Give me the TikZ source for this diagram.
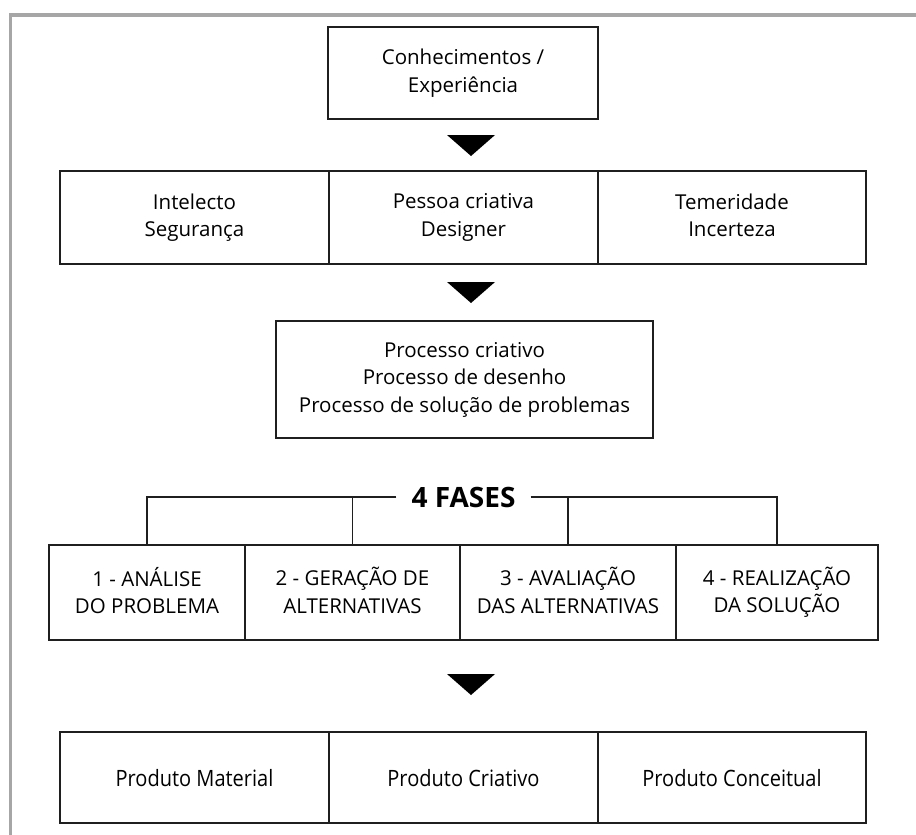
\documentclass[tikz,border=0pt]{standalone}
\usepackage{fontspec}
\setmainfont{Open Sans}
\newfontfamily\narrowfont[FakeStretch=0.89]{Open Sans}
% struts that give every box the same text block height
\newcommand\topstrut{\rule{0pt}{23pt}}
\newcommand\botstrut{\rule[-4.5pt]{0pt}{0pt}}
\begin{document}
\begin{tikzpicture}[x=1pt,y=-1pt,
  box/.style={draw=black!88, line width=1.5pt, rectangle, align=center,
    inner sep=0pt, font=\fontsize{20.5}{27.5}\selectfont,
    execute at begin node=\topstrut, execute at end node=\botstrut},
  row/.style={box, minimum height=93pt},
  phase/.style={box, minimum height=95pt},
  prod/.style={box, minimum height=91pt, font=\narrowfont\fontsize{22.5}{27}\selectfont},
  link/.style={draw=black!88, line width=1.5pt},
  pointer/.style={fill=black}
]
\useasboundingbox (0,0) rectangle (916,835);
% page frame
\draw[line width=3.5pt, draw=black!35] (10.5,835) -- (10.5,15) -- (916,15);

% source box
\node[box, minimum width=270pt, minimum height=92pt] (know) at (463,73)
  {Conhecimentos /\\Experiência};

% designer row
\node[row, minimum width=269pt] (intel) at (194.5,217.5) {Intelecto\\Segurança};
\node[row, minimum width=269pt] (person) at (463.5,217.5) {Pessoa criativa\\Designer};
\node[row, minimum width=268pt] (risk) at (732,217.5) {Temeridade\\Incerteza};

% process box
\node[box, minimum width=377pt, minimum height=117pt] (proc) at (464.5,379.5)
  {Processo criativo\\Processo de desenho\\Processo de solução de problemas};

% phases
\node[phase, minimum width=196pt] (f1) at (147,592.5) {1 - ANÁLISE\\DO PROBLEMA};
\node[phase, minimum width=215pt] (f2) at (352.5,592.5) {2 - GERAÇÃO DE\\ALTERNATIVAS};
\node[phase, minimum width=216pt] (f3) at (568,592.5) {3 - AVALIAÇÃO\\DAS ALTERNATIVAS};
\node[phase, minimum width=202pt] (f4) at (777,592.5) {4 - REALIZAÇÃO\\DA SOLUÇÃO};

\node[font=\bfseries\fontsize{28}{30}\selectfont, inner xsep=15pt, inner ysep=0pt]
  (fases) at (463.5,497) {4 FASES};
\coordinate (j2) at (f2.north |- fases.west);
\coordinate (j3) at (f3.north |- fases.east);
\draw[link] (fases.west) -| (f1.north);
\draw[link] (fases.east) -| (f4.north);
\draw[link] (j2) -- (f2.north);
\draw[link] (j3) -- (f3.north);

% products
\node[prod, minimum width=269pt] (pmat) at (194.5,777.5) {Produto Material};
\node[prod, minimum width=269pt] (pcri) at (463.5,777.5) {Produto Criativo};
\node[prod, minimum width=268pt] (pcon) at (732,777.5) {Produto Conceitual};

% flow pointers
\coordinate (a1) at (471,135);
\coordinate (a2) at (471,282);
\coordinate (a3) at (471,674);
\foreach \p in {a1,a2,a3}
  \fill[pointer] (\p) ++(-24,0) -- ++(48,0) -- ++(-24,21) -- cycle;
\end{tikzpicture}
\end{document}
